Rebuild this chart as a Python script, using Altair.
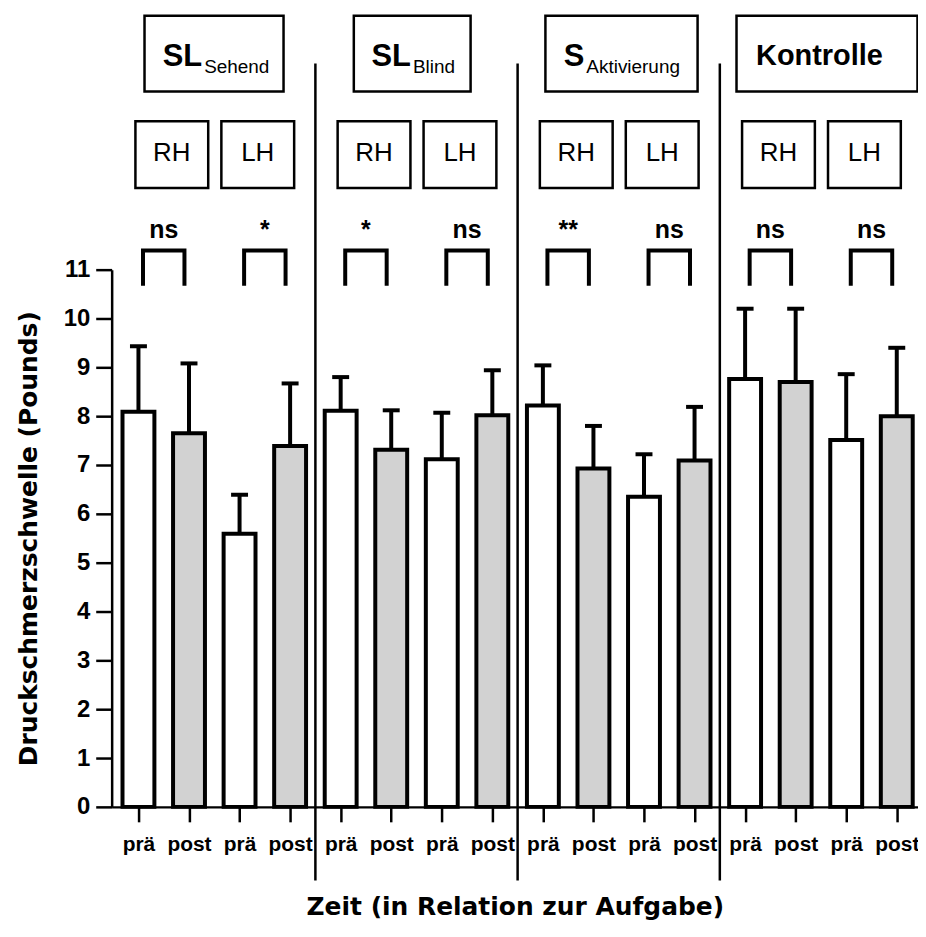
import altair as alt
import pandas as pd

# ---------------- data ----------------
groups = ["SL Sehend", "SL Blind", "S Aktivierung", "Kontrolle"]
group_main = ["SL", "SL", "S", "Kontrolle"]
group_sub = ["Sehend", "Blind", "Aktivierung", ""]
hands = ["RH", "LH"]
times = ["prä", "post"]
means = [8.09, 7.65, 5.59, 7.39,
         8.11, 7.31, 7.12, 8.02,
         8.22, 6.93, 6.35, 7.09,
         8.76, 8.70, 7.51, 8.00]
sds = [1.34, 1.43, 0.80, 1.28,
       0.69, 0.81, 0.95, 0.92,
       0.82, 0.87, 0.87, 1.10,
       1.44, 1.50, 1.35, 1.40]
sig = ["ns", "*", "*", "ns", "**", "ns", "ns", "ns"]

# ---------------- layout (scale units) ----------------
L = dict(
    g_box=[(0.12, 2.87), (4.26, 6.57), (8.05, 11.06), (11.83, 15.41)],
    g_txt=[1.26, 5.39, 8.82, 13.47],
    g_y=(14.65, 16.20), g_main_y=15.163, g_sub_y=15.02, g_single_y=15.20,
    h_off=[-0.06, 1.64], h_w=1.44, h_y=(12.67, 14.04), h_txt_y=13.38,
    br_half=0.41, br_y=(10.67, 11.39), sig_y=11.65,
    div_y=(-1.51, 15.22),
)

rows = []
for i, (m, s) in enumerate(zip(means, sds)):
    rows.append(dict(idx=i, group=groups[i // 4], hand=hands[(i // 2) % 2],
                     time=times[i % 2], mean=m, upper=m + s))
bars = pd.DataFrame(rows)

pairs = []
brackets = []
for p in range(8):
    c = 2 * p + 0.5
    g = p // 2
    h = p % 2
    x1 = 4 * g + L["h_off"][h]
    pairs.append(dict(pair=p, c=c, sig=sig[p], hand=hands[h],
                      hx1=x1, hx2=x1 + L["h_w"], hcx=x1 + L["h_w"] / 2))
    pts = [(c - L["br_half"], L["br_y"][0]), (c - L["br_half"], L["br_y"][1]),
           (c + L["br_half"], L["br_y"][1]), (c + L["br_half"], L["br_y"][0])]
    for o, (bx, by) in enumerate(pts):
        brackets.append(dict(pair=p, o=o, bx=bx, by=by))
pairs = pd.DataFrame(pairs)
brackets = pd.DataFrame(brackets)

gdf = pd.DataFrame(dict(
    main=group_main, sub=group_sub,
    x1=[b[0] for b in L["g_box"]], x2=[b[1] for b in L["g_box"]],
    tx=L["g_txt"]))
gdf["y1"] = L["g_y"][0]
gdf["y2"] = L["g_y"][1]
gdf["ym"] = L["g_main_y"]
gdf["ys"] = L["g_sub_y"]
gdf["y1s"] = L["g_single_y"]

divs = pd.DataFrame(dict(dx=[3.5, 7.5, 11.5]))
divs["dy1"] = L["div_y"][0]
divs["dy2"] = L["div_y"][1]

# ---------------- scales & axes ----------------
xs = alt.Scale(domain=[-0.53, 15.42], nice=False, zero=False, padding=0)
ys = alt.Scale(domain=[0, 11], nice=False, padding=0)

FONT = "Liberation Sans"

xaxis = alt.Axis(values=list(range(16)),
                 labelExpr="datum.value % 2 == 0 ? 'prä' : 'post'",
                 title="Zeit (in Relation zur Aufgabe)",
                 grid=False, tickSize=15, tickWidth=2.5, tickColor="black",
                 domainColor="black", domainWidth=2.5,
                 labelFont=FONT, labelFontWeight="bold", labelFontSize=21,
                 labelColor="black", labelPadding=12, labelFlush=False,
                 labelOverlap=False, labelBound=False, labelAngle=0,
                 titleFont="DejaVu Sans", titleFontWeight="bold",
                 titleFontSize=25, titleColor="black", titlePadding=40)
yaxis = alt.Axis(values=list(range(12)), title="Druckschmerzschwelle (Pounds)",
                 grid=False, tickSize=16, tickWidth=2.5, tickColor="black",
                 domainColor="black", domainWidth=2.5,
                 labelFont=FONT, labelFontWeight="bold", labelFontSize=24,
                 labelColor="black", labelPadding=6, labelFlush=False,
                 labelOverlap=False,
                 titleFont="DejaVu Sans", titleFontWeight="bold",
                 titleFontSize=25, titleColor="black", titlePadding=22)


def X(f):
    return alt.X(f, scale=xs, axis=xaxis)


def Y(f):
    return alt.Y(f, scale=ys, axis=yaxis)


bar_layer = alt.Chart(bars).mark_bar(size=32, stroke="black", strokeWidth=4).encode(
    x=X("idx:Q"),
    y=Y("mean:Q"),
    fill=alt.Fill("time:N", scale=alt.Scale(domain=times, range=["white", "#d2d2d2"]),
                  legend=None),
)

err_line = alt.Chart(bars).mark_rule(color="black", strokeWidth=4).encode(
    x=X("idx:Q"), y=Y("mean:Q"), y2="upper:Q",
)
err_cap = alt.Chart(bars).mark_tick(orient="horizontal", color="black", size=17,
                                     thickness=4, opacity=1).encode(
    x=X("idx:Q"), y=Y("upper:Q"),
)

bracket_layer = alt.Chart(brackets).mark_line(color="black", strokeWidth=4,
                                              strokeCap="butt", strokeJoin="miter").encode(
    x=X("bx:Q"), y=Y("by:Q"), detail="pair:N", order="o:Q",
)

sig_layer = alt.Chart(pairs).mark_text(font=FONT, fontWeight="bold", fontSize=25,
                                       baseline="alphabetic", align="center",
                                       color="black").encode(
    x=X("c:Q"), y=Y("sig_y:Q"), text="sig:N",
).transform_calculate(sig_y=str(L["sig_y"]))

hand_box = alt.Chart(pairs).mark_rect(fill="white", stroke="black", strokeWidth=2.5).encode(
    x=X("hx1:Q"), x2="hx2:Q", y=Y("hy1:Q"), y2="hy2:Q",
).transform_calculate(hy1=str(L["h_y"][0]), hy2=str(L["h_y"][1]))

hand_txt = alt.Chart(pairs).mark_text(font=FONT, fontSize=26, baseline="middle",
                                      align="center", color="black").encode(
    x=X("hcx:Q"), y=Y("hty:Q"), text="hand:N",
).transform_calculate(hty=str(L["h_txt_y"]))

group_box = alt.Chart(gdf).mark_rect(fill="white", stroke="black", strokeWidth=2.5).encode(
    x=X("x1:Q"), x2="x2:Q", y=Y("y1:Q"), y2="y2:Q",
)

gsub = gdf[gdf["sub"] != ""]
gsingle = gdf[gdf["sub"] == ""]

group_main_txt = alt.Chart(gsub).mark_text(font=FONT, fontWeight="bold", fontSize=31,
                                           align="right", baseline="alphabetic",
                                           color="black").encode(
    x=X("tx:Q"), y=Y("ym:Q"), text="main:N",
)
group_sub_txt = alt.Chart(gsub).mark_text(font=FONT, fontSize=19, align="left", dx=2,
                                          baseline="alphabetic", color="black").encode(
    x=X("tx:Q"), y=Y("ys:Q"), text="sub:N",
)
group_single_txt = alt.Chart(gsingle).mark_text(font=FONT, fontWeight="bold", fontSize=29,
                                                align="center", baseline="alphabetic",
                                                color="black").encode(
    x=X("tx:Q"), y=Y("y1s:Q"), text="main:N",
)

div_layer = alt.Chart(divs).mark_rule(color="black", strokeWidth=2.5).encode(
    x=X("dx:Q"), y=Y("dy1:Q"), y2="dy2:Q",
)

chart = alt.layer(
    bar_layer, err_line, err_cap, bracket_layer, sig_layer,
    hand_box, hand_txt, group_box, group_main_txt, group_sub_txt, group_single_txt,
    div_layer,
).properties(
    width=809, height=539,
    background="white",
    autosize=alt.AutoSizeParams(type="none"),
    padding={"left": 104, "top": 261, "right": 0, "bottom": 117},
).configure_view(stroke="transparent", strokeWidth=0)

chart.save("out.html", embed_options={"renderer": "svg", "actions": False})
